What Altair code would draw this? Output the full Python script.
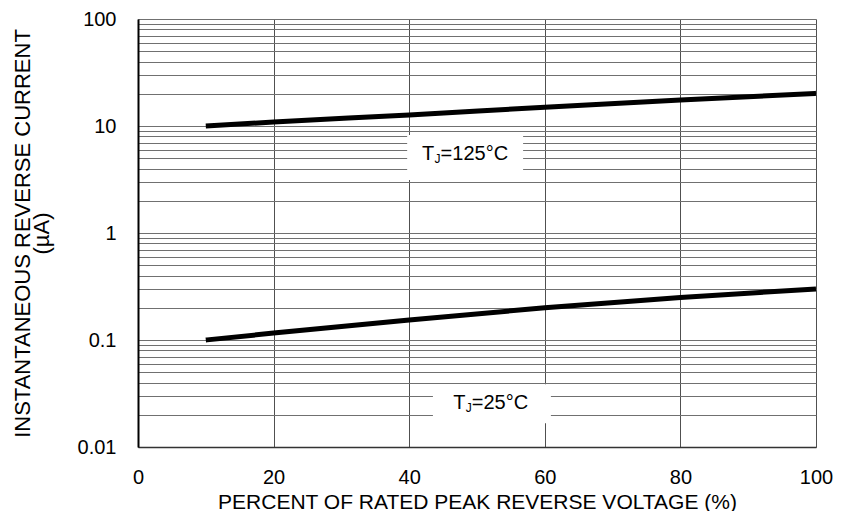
import altair as alt
import pandas as pd

# Curve data
x_pts = [10, 20, 40, 60, 80, 100]
i_125 = [10.0, 10.9, 12.7, 15.0, 17.5, 20.2]
i_25 = [0.1, 0.116, 0.154, 0.2, 0.25, 0.3]

# Annotation labels (data coordinates)
ann_x = [41.9, 46.5]
ann_y = [4.81, 0.0227]
ann_rest = ["=125°C", "=25°C"]
box_x1 = [39.7, 43.5]
box_x2 = [56.8, 60.9]
box_y1 = [3.13, 0.0167]
box_y2 = [8.24, 0.0386]

x_ticks = [0, 20, 40, 60, 80, 100]
y_ticks = [k * 10.0 ** e for e in range(-2, 2) for k in range(1, 10)] + [100.0]

FONT = "Liberation Sans"

curves = pd.DataFrame({
    "x": x_pts * 2,
    "y": i_125 + i_25,
    "s": ["125"] * len(x_pts) + ["25"] * len(x_pts),
})
ann = pd.DataFrame({"x": ann_x, "y": ann_y, "rest": ann_rest})
boxes = pd.DataFrame({"x1": box_x1, "x2": box_x2, "y1": box_y1, "y2": box_y2})

xscale = alt.Scale(domain=[0, 100], nice=False)
yscale = alt.Scale(type="log", domain=[0.01, 100], nice=False)

xaxis = alt.Axis(
    values=x_ticks, title="PERCENT OF RATED PEAK REVERSE VOLTAGE (%)",
    grid=True, gridColor="#505050", gridWidth=1, gridOpacity=1,
    ticks=False, labelPadding=20, labelFontSize=20, labelFont=FONT,
    labelColor="#000", titleFont=FONT, titleFontSize=21, titleFontWeight="normal",
    titleColor="#000", titlePadding=4, domainColor="#333", domainWidth=1.5,
    labelFlush=False,
)
yaxis = alt.Axis(
    values=y_ticks, title=["INSTANTANEOUS REVERSE CURRENT", "(µA)"],
    grid=True, gridColor="#707070", gridWidth=1, gridOpacity=1,
    ticks=False, labelPadding=22, labelFontSize=20, labelFont=FONT,
    labelColor="#000", format="~g",
    labelExpr="abs(log(datum.value)/LN10 - round(log(datum.value)/LN10)) < 1e-6 ? datum.label : ''",
    labelOverlap=False, labelFlush=False,
    titleFont=FONT, titleFontSize=22, titleFontWeight="normal", titleColor="#000",
    titlePadding=24, titleLineHeight=19, domainColor="#000", domainWidth=2,
)

base_lines = alt.Chart(curves).mark_line(
    color="black", strokeWidth=5, interpolate="monotone", strokeCap="butt"
).encode(
    x=alt.X("x:Q", scale=xscale, axis=xaxis),
    y=alt.Y("y:Q", scale=yscale, axis=yaxis),
    detail="s:N",
)

rects = alt.Chart(boxes).mark_rect(fill="white", stroke=None).encode(
    x=alt.X("x1:Q", scale=xscale), x2="x2:Q",
    y=alt.Y("y1:Q", scale=yscale), y2="y2:Q",
)

t_main = alt.Chart(ann).mark_text(
    text="T", align="left", baseline="alphabetic", font=FONT, fontSize=20, color="black"
).encode(x=alt.X("x:Q", scale=xscale), y=alt.Y("y:Q", scale=yscale))

t_sub = alt.Chart(ann).mark_text(
    text="J", align="left", baseline="alphabetic", font=FONT, fontSize=12, color="black",
    dx=12.5, dy=3,
).encode(x=alt.X("x:Q", scale=xscale), y=alt.Y("y:Q", scale=yscale))

t_rest = alt.Chart(ann).mark_text(
    align="left", baseline="alphabetic", font=FONT, fontSize=20, color="black", dx=18.5,
).encode(x=alt.X("x:Q", scale=xscale), y=alt.Y("y:Q", scale=yscale), text="rest:N")

chart = alt.layer(rects, base_lines, t_main, t_sub, t_rest).properties(
    width=678, height=428,
    autosize=alt.AutoSizeParams(type="none"),
    padding={"left": 130, "top": 11, "right": 25, "bottom": 64},
).configure_view(stroke="#555", strokeWidth=1.2).configure(background="white")

chart.save("out.html", embed_options={"renderer": "svg", "actions": False})
